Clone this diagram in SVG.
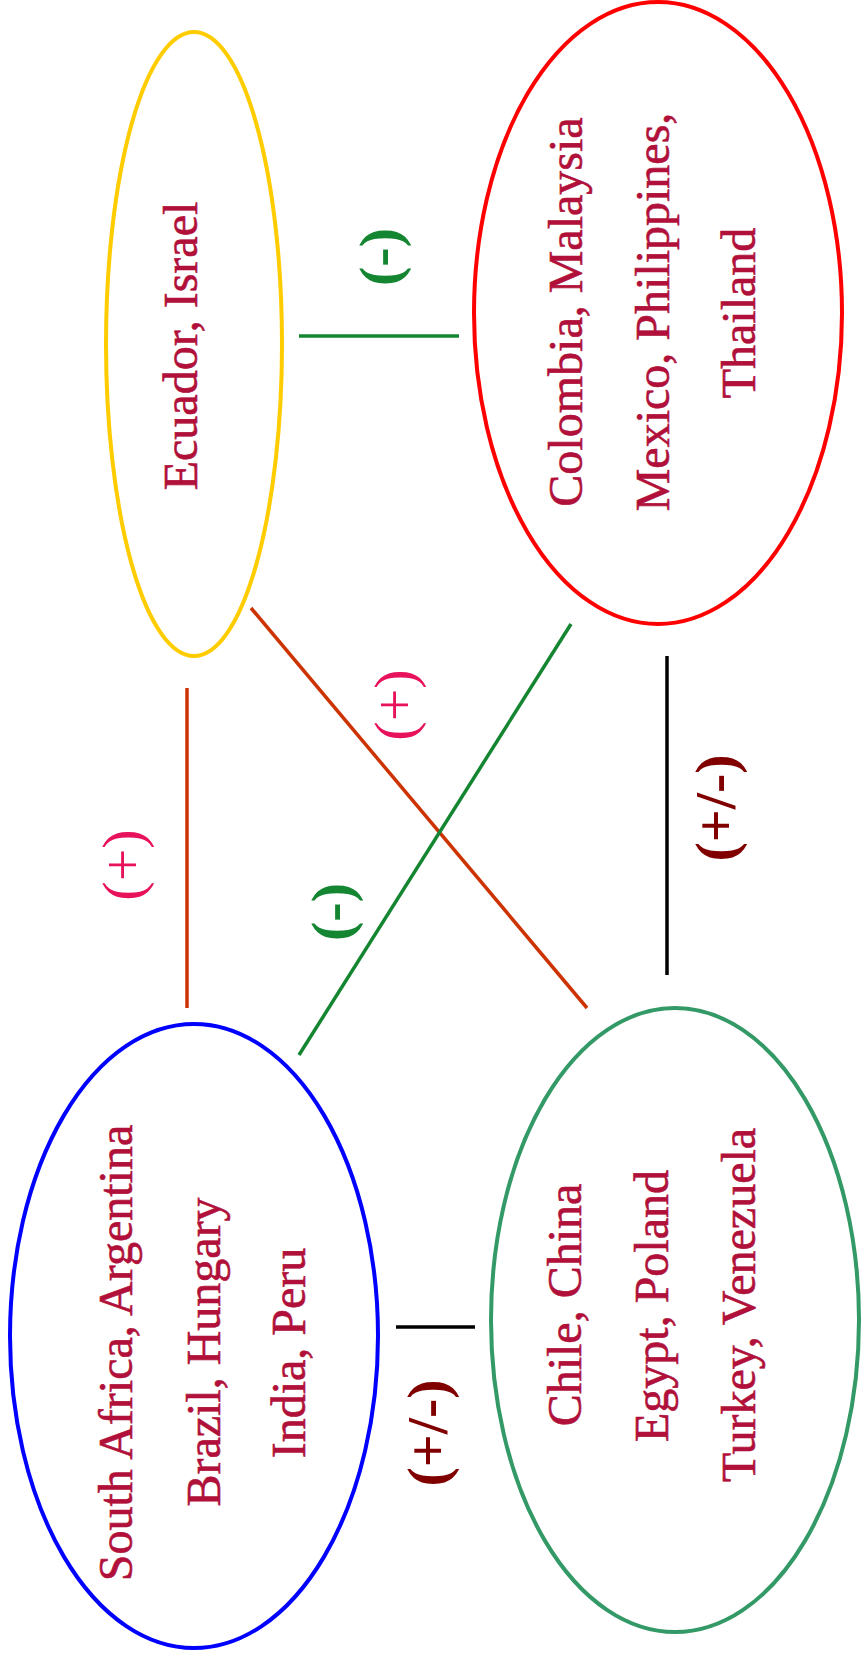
<svg xmlns="http://www.w3.org/2000/svg" width="861" height="1661" viewBox="0 0 861 1661">
<style>
.node{fill:none;stroke-width:4}
.t{font-family:"Liberation Serif","Times New Roman",serif;font-size:48px;fill:#B0103A;stroke:#B0103A;stroke-width:0.6;text-anchor:middle}
.lb{font-family:"Liberation Serif","Times New Roman",serif;font-size:58px;text-anchor:middle}
.con{stroke-width:3.5;fill:none}
</style>
<rect width="861" height="1661" fill="#fff"/>
<g id="connectors">
<line class="con" x1="299" y1="336" x2="459" y2="336" stroke="#148530"/>
<line class="con" x1="187" y1="688" x2="187" y2="1008" stroke="#CC3300"/>
<line class="con" x1="251" y1="608" x2="587" y2="1008" stroke="#CC3300"/>
<line class="con" x1="571" y1="624" x2="299" y2="1055" stroke="#148530"/>
<line class="con" x1="667" y1="656" x2="667" y2="975" stroke="#000"/>
<line class="con" x1="396" y1="1327" x2="475" y2="1327" stroke="#000"/>
<text class="lb" transform="translate(399,257) rotate(-90)" fill="#148530" font-weight="bold">(-)</text>
<text class="lb" transform="translate(142,865) rotate(-90)" fill="#E8115B">(+)</text>
<text class="lb" transform="translate(414,705) rotate(-90)" fill="#E8115B">(+)</text>
<text class="lb" transform="translate(351,912) rotate(-90)" fill="#148530" font-weight="bold">(-)</text>
<text class="lb" transform="translate(735,808) rotate(-90)" fill="#800000" font-weight="bold">(+/-)</text>
<text class="lb" transform="translate(447,1433) rotate(-90)" fill="#800000" font-weight="bold">(+/-)</text>
</g>
<g id="ecuador">
<ellipse class="node" cx="194" cy="344" rx="88" ry="312" stroke="#FFCC00"/>
<text class="t" transform="translate(197,346) rotate(-90)">Ecuador, Israel</text>
</g>
<g id="colombia">
<ellipse class="node" cx="658" cy="313" rx="184" ry="311" stroke="#FF0000"/>
<text class="t" transform="translate(582,312) rotate(-90)">Colombia, Malaysia</text>
<text class="t" transform="translate(669,312) rotate(-90)">Mexico, Philippines,</text>
<text class="t" transform="translate(755,313) rotate(-90)">Thailand</text>
</g>
<g id="southafrica">
<ellipse class="node" cx="194" cy="1336" rx="184" ry="312" stroke="#0000FF"/>
<text class="t" transform="translate(132,1353) rotate(-90)">South Africa, Argentina</text>
<text class="t" transform="translate(220,1352) rotate(-90)">Brazil, Hungary</text>
<text class="t" transform="translate(305,1353) rotate(-90)">India, Peru</text>
</g>
<g id="chile">
<ellipse class="node" cx="675" cy="1320" rx="184" ry="312" stroke="#339966"/>
<text class="t" transform="translate(581,1305) rotate(-90)">Chile, China</text>
<text class="t" transform="translate(668,1306) rotate(-90)">Egypt, Poland</text>
<text class="t" transform="translate(755,1305) rotate(-90)">Turkey, Venezuela</text>
</g>
</svg>
